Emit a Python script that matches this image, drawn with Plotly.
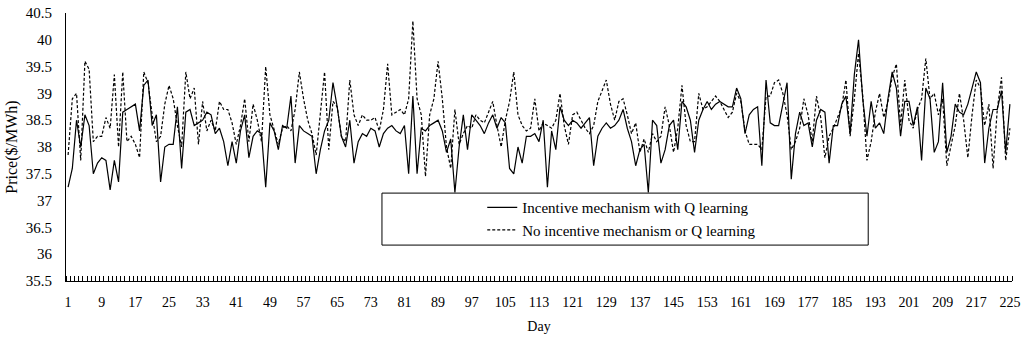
import plotly.graph_objects as go

days = list(range(1, 226))

with_q = [
    37.25, 37.6, 38.5, 38.0, 38.6, 38.4, 37.5, 37.7, 37.8, 37.75,
    37.2, 37.75, 37.35, 38.65, 38.7, 38.75, 38.8, 38.3, 39.15, 39.25,
    38.4, 38.6, 37.35, 38.0, 38.05, 38.05, 38.75, 37.6, 38.65, 38.7,
    38.4, 38.45, 38.5, 38.65, 38.6, 38.25, 38.35, 38.1, 37.65, 38.1,
    37.7, 38.3, 38.6, 37.8, 38.2, 38.3, 38.25, 37.25, 38.45, 38.3,
    37.95, 38.4, 38.35, 38.95, 37.7, 38.4, 38.3, 38.25, 38.2, 37.5,
    37.95, 38.3, 38.5, 39.2, 38.75, 38.2, 38.0, 38.5, 37.7, 38.1,
    38.25, 38.2, 38.35, 38.3, 38.0, 38.25, 38.35, 38.4, 38.3, 38.25,
    38.4, 37.5, 38.95, 37.5, 38.35, 38.3, 38.4, 38.45, 38.5, 38.3,
    37.9, 38.15, 37.15, 38.0, 38.6, 37.95, 38.6, 38.5, 38.4, 38.25,
    38.45, 38.6, 38.35, 38.55, 38.45, 37.6, 37.5, 38.0, 37.7, 38.2,
    38.2, 38.25, 38.1, 38.5, 37.25, 38.3, 37.95, 38.75, 38.5, 38.4,
    38.5, 38.45, 38.35, 38.45, 38.55, 37.65, 38.2, 38.35, 38.45, 38.35,
    38.4, 38.5, 38.7, 38.35, 38.1, 37.65, 37.95, 38.05, 37.15, 38.5,
    38.4, 37.7, 37.95, 38.4, 38.5, 37.95, 38.85, 38.75, 38.5, 37.9,
    38.5, 38.7, 38.85, 38.7, 38.8, 38.85, 38.8, 38.75, 38.75, 39.1,
    38.9, 38.25, 38.6, 38.7, 38.75, 37.65, 39.25, 38.45, 38.4, 38.4,
    38.8, 39.2, 37.4, 38.25, 38.65, 38.4, 38.45, 38.0, 38.5, 38.7,
    38.65, 37.7, 38.4, 38.4, 38.8, 38.95, 38.25, 39.35, 40.0, 38.9,
    38.2, 38.85, 38.35, 38.45, 38.25, 38.9, 39.4, 39.1, 38.2, 38.85,
    38.85, 38.4, 38.75, 37.75, 39.1, 38.9, 37.9, 38.1, 39.2, 37.9,
    38.2, 38.8, 38.65, 38.6, 38.8, 39.1, 39.4, 39.2, 37.7, 38.35,
    38.7, 38.7, 39.05, 37.9, 38.8,
]

no_q = [
    37.85, 38.9, 39.0, 37.75, 39.6, 39.45, 38.1, 38.2, 38.2, 38.55,
    38.35, 39.35, 38.0, 39.4, 38.1, 38.2, 38.05, 37.8, 39.4, 39.2,
    38.6, 38.1, 38.2, 38.8, 39.15, 38.9, 38.4, 38.0, 39.4, 38.9,
    39.1, 38.05, 38.85, 38.3, 38.5, 38.3, 38.85, 38.7, 38.7, 38.45,
    38.05, 38.4, 38.9, 38.1, 38.8, 38.5, 38.1, 39.5, 38.6, 38.3,
    38.05, 38.35, 38.4, 38.3, 38.7, 39.4, 38.9, 38.5, 38.25, 37.85,
    38.6, 39.4, 37.95, 38.85, 38.75, 38.2, 38.1, 39.25, 38.6, 38.4,
    38.6, 38.5, 38.5, 38.55, 38.3, 38.7, 39.55, 38.6, 38.65, 38.7,
    38.6, 38.9, 40.35, 38.9, 38.6, 37.45, 38.6, 38.9, 39.6, 38.9,
    38.0, 37.6, 38.7, 38.05, 38.25, 38.4, 38.35, 38.6, 38.5, 38.45,
    38.65, 38.85, 38.4, 38.0, 38.5, 38.85, 39.4, 38.6, 38.4, 38.3,
    38.35, 38.9, 38.3, 38.45, 38.4, 38.35, 38.5, 39.0, 38.4, 38.05,
    38.6, 38.65, 38.5, 38.35, 38.25, 38.4, 38.85, 39.05, 39.25, 38.8,
    38.5, 38.85, 38.9, 38.6, 38.25, 38.45, 37.9, 38.15, 37.9, 38.25,
    38.1, 38.2, 38.75, 38.4, 37.9, 38.35, 39.15, 38.4, 38.1, 38.1,
    39.0, 38.7, 38.75, 38.85, 38.95, 38.85, 38.7, 38.55, 38.65, 39.0,
    38.85, 38.3, 38.05, 38.05, 38.05, 37.95, 38.95, 38.95, 39.2, 39.25,
    39.0, 38.6, 37.95, 38.1, 38.35, 38.9, 38.6, 38.1, 38.95, 38.55,
    37.8, 38.2, 38.35, 38.55, 38.75, 39.25, 38.2, 38.9, 39.75, 38.95,
    37.75, 38.1, 38.65, 39.0, 38.55, 38.85, 39.3, 39.55, 38.4, 39.25,
    38.5, 38.35, 38.7, 38.9, 39.65, 38.9, 39.0, 38.6, 38.9, 37.65,
    38.0, 38.4, 39.0, 38.5, 37.8, 38.6, 39.25, 39.1, 38.4, 38.8,
    37.6, 38.7, 39.3, 37.75, 38.35,
]

x_tick_days = list(range(1, 226, 8))
y_tick_vals = [35.5, 36, 36.5, 37, 37.5, 38, 38.5, 39, 39.5, 40, 40.5]
y_tick_text = ["35.5", "36", "36.5", "37", "37.5", "38", "38.5", "39", "39.5", "40", "40.5"]

SERIF = "'Liberation Serif', 'Times New Roman', 'DejaVu Serif', serif"

fig = go.Figure()
fig.add_trace(go.Scatter(
    x=days, y=with_q, mode="lines", name="Incentive mechanism with Q learning",
    line=dict(color="black", width=1.2),
))
fig.add_trace(go.Scatter(
    x=days, y=no_q, mode="lines", name="No incentive mechanism or Q learning",
    line=dict(color="black", width=1.2, dash="3px,2px"),
))

fig.add_shape(
    type="rect", xref="paper", yref="paper",
    x0=0.334, x1=0.848, y0=0.134, y1=0.328,
    line=dict(color="black", width=1), fillcolor="white", layer="above",
)

fig.update_layout(
    width=1024, height=340,
    margin=dict(l=66, r=12, t=13, b=59, autoexpand=False),
    paper_bgcolor="white", plot_bgcolor="white",
    font=dict(family=SERIF, color="black", size=14),
    showlegend=True,
    legend=dict(
        x=0.44, y=0.335, xanchor="left", yanchor="top",
        bgcolor="rgba(0,0,0,0)", borderwidth=0,
        font=dict(family=SERIF, size=15, color="black"),
        tracegroupgap=0, itemwidth=30,
    ),
    xaxis=dict(
        range=[0.5, 225.5], tickmode="array", tickvals=x_tick_days,
        ticktext=[str(d) for d in x_tick_days],
        ticks="", showgrid=False, zeroline=False,
        showline=True, linecolor="black", linewidth=1,
        tickfont=dict(family=SERIF, size=14, color="black"),
        ticklabelstandoff=8,
        minor=dict(tickmode="array", tickvals=[d - 0.5 for d in range(1, 227)],
                   ticks="inside", ticklen=5, tickcolor="black", tickwidth=1,
                   showgrid=False),
        title=dict(text="Day", font=dict(family=SERIF, size=14, color="black"), standoff=12),
    ),
    yaxis=dict(
        range=[35.5, 40.5], tickmode="array", tickvals=y_tick_vals, ticktext=y_tick_text,
        ticks="", showgrid=False, zeroline=False,
        showline=True, linecolor="black", linewidth=1,
        tickfont=dict(family=SERIF, size=15, color="black"),
        ticklabelstandoff=10,
        title=dict(text="Price($/MWh)", font=dict(family=SERIF, size=16, color="black"), standoff=4),
    ),
)

fig.write_html("out.html", config={"displayModeBar": False},
               post_script="document.body.style.margin='0px';")
